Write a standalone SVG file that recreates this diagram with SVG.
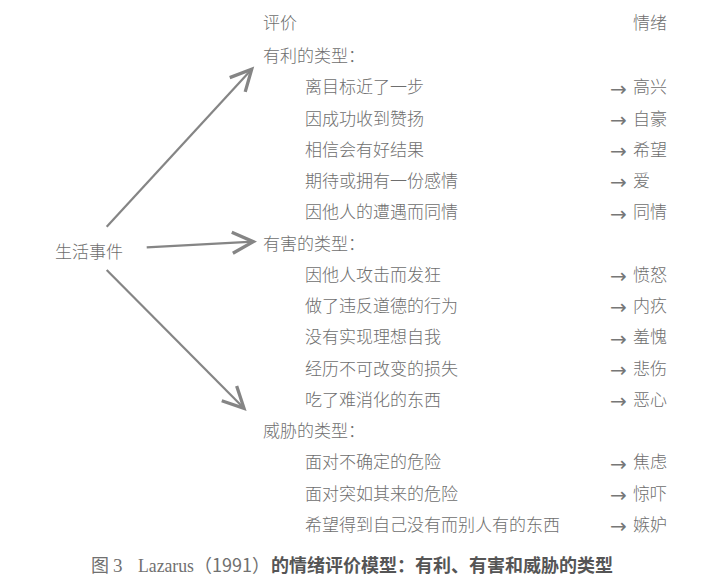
<svg xmlns="http://www.w3.org/2000/svg" width="712" height="588" viewBox="0 0 712 588">
<style>
text{font-family:"Noto Sans CJK SC","Noto Sans",sans-serif;fill:#6e6e6e;font-size:17px;font-weight:300}
text.ar{font-family:"DejaVu Sans",sans-serif;font-size:20px;font-weight:400;fill:#777}
.cap{fill:#555;font-size:18px;font-weight:700}
.lat{font-family:"Liberation Serif",serif;font-weight:400;font-size:19px;fill:#707070}
.fig{font-weight:400;fill:#707070}
.conn line{stroke:#858585;stroke-width:2.2;fill:none}
</style>
<defs>
<marker id="chev" markerUnits="userSpaceOnUse" markerWidth="30" markerHeight="30" refX="0" refY="0" viewBox="-16 -10 20 20" orient="auto">
<path d="M-14,-7 L0,0 L-14,7" fill="none" stroke="#858585" stroke-width="2.2" stroke-linejoin="miter"/>
</marker>
</defs>
<rect width="712" height="588" fill="#fff"/>
<g id="source"><text x="55" y="257.5">生活事件</text></g>
<g class="conn" id="connectors">
<line x1="106.7" y1="226.7" x2="251.7" y2="69.3" marker-end="url(#chev)"/>
<line x1="146.7" y1="247.3" x2="253.3" y2="241.7" marker-end="url(#chev)"/>
<line x1="106.7" y1="270" x2="244" y2="408.3" marker-end="url(#chev)"/>
</g>
<g id="headers">
<text x="263" y="28.5">评价</text>
<text x="633" y="28.5">情绪</text>
</g>
<g id="beneficial">
<text x="263" y="62">有利的类型：</text>
<text x="305" y="93.2">离目标近了一步</text>
<text x="305" y="124.5">因成功收到赞扬</text>
<text x="305" y="155.7">相信会有好结果</text>
<text x="305" y="187">期待或拥有一份感情</text>
<text x="305" y="218.2">因他人的遭遇而同情</text>
<text class="ar" x="610" y="95.5">→</text><text x="633" y="93.2">高兴</text>
<text class="ar" x="610" y="126.8">→</text><text x="633" y="124.5">自豪</text>
<text class="ar" x="610" y="158">→</text><text x="633" y="155.7">希望</text>
<text class="ar" x="610" y="189.3">→</text><text x="633" y="187">爱</text>
<text class="ar" x="610" y="220.5">→</text><text x="633" y="218.2">同情</text>
</g>
<g id="harmful">
<text x="263" y="249.5">有害的类型：</text>
<text x="305" y="280.7">因他人攻击而发狂</text>
<text x="305" y="312">做了违反道德的行为</text>
<text x="305" y="343.2">没有实现理想自我</text>
<text x="305" y="374.5">经历不可改变的损失</text>
<text x="305" y="405.7">吃了难消化的东西</text>
<text class="ar" x="610" y="283">→</text><text x="633" y="280.7">愤怒</text>
<text class="ar" x="610" y="314.3">→</text><text x="633" y="312">内疚</text>
<text class="ar" x="610" y="345.5">→</text><text x="633" y="343.2">羞愧</text>
<text class="ar" x="610" y="376.8">→</text><text x="633" y="374.5">悲伤</text>
<text class="ar" x="610" y="408">→</text><text x="633" y="405.7">恶心</text>
</g>
<g id="threat">
<text x="263" y="437">威胁的类型：</text>
<text x="305" y="468.2">面对不确定的危险</text>
<text x="305" y="499.5">面对突如其来的危险</text>
<text x="305" y="530.7">希望得到自己没有而别人有的东西</text>
<text class="ar" x="610" y="470.5">→</text><text x="633" y="468.2">焦虑</text>
<text class="ar" x="610" y="501.8">→</text><text x="633" y="499.5">惊吓</text>
<text class="ar" x="610" y="533">→</text><text x="633" y="530.7">嫉妒</text>
</g>
<g id="caption">
<text class="cap" x="91" y="571.5"><tspan class="fig">图</tspan><tspan class="lat" x="113">3</tspan><tspan class="lat" x="138" textLength="56" lengthAdjust="spacingAndGlyphs">Lazarus</tspan><tspan class="fig" x="194">（1991）</tspan><tspan x="271">的情绪评价模型：有利、有害和威胁的类型</tspan></text>
</g>
</svg>
